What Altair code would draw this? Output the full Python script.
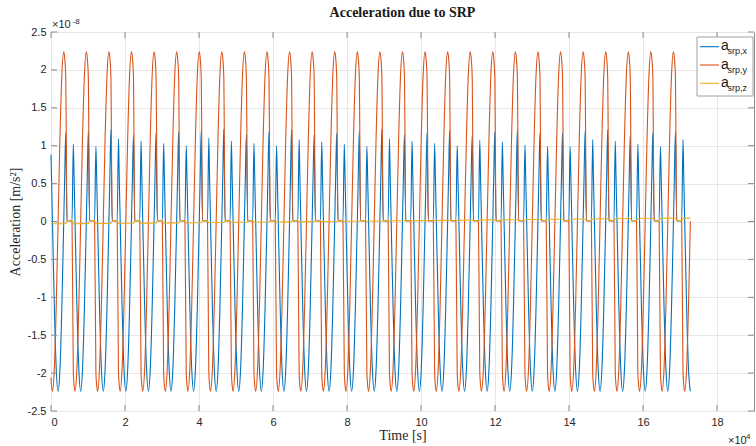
import altair as alt
import pandas as pd

# ---------------------------------------------------------------------------
# Values (accelerations in units of 1e-8 m/s^2)
# ---------------------------------------------------------------------------
# time of the middle of each eclipse (gap between the two blue spikes) [s]
ECLIPSE_CENTRES_S = [4970, 11073, 17176, 23279, 29382, 35485, 41588, 47691,
                     53794, 59897, 66000, 72103, 78206, 84309, 90412, 96515,
                     102618, 108721, 114824, 120927, 127030, 133133, 139236,
                     145339, 151442, 157545, 163648, 169751]

# one orbit as seen in the picture: offsets from the eclipse centre [s]
SHAPE_OFFSETS_S = [-3051, -2543, -2034, -1526, -1271, -990, -640,
                   710, 1060, 1271, 1526, 2034, 2543]
BLUE_SHAPE = [-2.24, -1.94, -1.12, 0.00, 0.58, None, 0.01,
              0.01, None, 0.58, 0.00, -1.12, -1.94]
ORANGE_SHAPE = [0.00, 1.12, 1.94, 2.24, 2.16, 1.91, 0.01,
                0.01, -1.99, -2.16, -2.24, -1.94, -1.12]

# blue spike heights at eclipse entry / exit, orbit by orbit
BLUE_ENTRY = [1.17, 1.19, 1.21, 1.14, 1.17, 1.18, 1.20, 1.22, 1.15,
              1.18, 1.21, 1.14, 1.16, 1.19, 1.22, 1.15, 1.17, 1.20,
              1.13, 1.18, 1.21, 1.16, 1.17, 1.19, 1.21, 1.13, 1.17, 1.19]
BLUE_EXIT = [1.02, 0.99, 1.09, 1.06, 1.03, 1.00, 1.10, 1.06, 1.03,
             1.00, 1.08, 1.05, 1.02, 0.99, 1.09, 1.06, 1.03, 1.00,
             1.07, 1.05, 1.01, 0.99, 0.99, 1.08, 1.06, 1.02, 0.99, 1.08]

# z component: level between eclipses (per orbit) and inside eclipse
YELLOW_OFFSETS_S = [-3051, -990, -640, 710, 1060]
YELLOW_BASE = [-0.030, -0.028, -0.026, -0.024, -0.021, -0.018, -0.016,
               -0.013, -0.010, -0.007, -0.005, -0.002, 0.000, 0.003,
               0.006, 0.009, 0.012, 0.015, 0.018, 0.021, 0.024, 0.027,
               0.030, 0.033, 0.036, 0.039, 0.042, 0.045]
ECLIPSE_LEVEL = 0.01

# partial orbit at the start and last sample
START_T = [0, 138, 393, 901, 1410]
START_BLUE = [0.88, 0.58, 0.00, -1.12, -1.94]
START_ORANGE = [-2.06, -2.16, -2.24, -1.94, -1.12]
START_YELLOW = -0.030
END_T = 172802
END_BLUE = -2.24
END_ORANGE = 0.00
END_YELLOW = 0.045

X_TICKS = [0, 20000, 40000, 60000, 80000, 100000, 120000, 140000, 160000, 180000]
Y_TICKS = [-2.5, -2, -1.5, -1, -0.5, 0, 0.5, 1, 1.5, 2, 2.5]

BLUE, ORANGE, YELLOW = "#0072BD", "#D95319", "#EDB120"
W, H = 703, 379
GRAY = "#8a8a8a"

# ---------------------------------------------------------------------------
blue_rows, orange_rows, yellow_rows = [], [], []
for t, b, o in zip(START_T, START_BLUE, START_ORANGE):
    blue_rows.append({"t": t, "v": b})
    orange_rows.append({"t": t, "v": o})
yellow_rows.append({"t": 0, "v": START_YELLOW})

for k, c in enumerate(ECLIPSE_CENTRES_S):
    for off, b, o in zip(SHAPE_OFFSETS_S, BLUE_SHAPE, ORANGE_SHAPE):
        if b is None:
            b = BLUE_ENTRY[k] if off < 0 else BLUE_EXIT[k]
        blue_rows.append({"t": c + off, "v": b})
        orange_rows.append({"t": c + off, "v": o})
    base = YELLOW_BASE[k]
    for off, lv in zip(YELLOW_OFFSETS_S, [base, base, ECLIPSE_LEVEL, ECLIPSE_LEVEL, base]):
        yellow_rows.append({"t": c + off, "v": lv})

blue_rows.append({"t": END_T, "v": END_BLUE})
orange_rows.append({"t": END_T, "v": END_ORANGE})
yellow_rows.append({"t": END_T, "v": END_YELLOW})

x_scale = alt.Scale(domain=[0, 190000], nice=False, zero=False)
y_scale = alt.Scale(domain=[-2.5, 2.5], nice=False, zero=False)

x_axis = alt.Axis(values=X_TICKS, labelExpr="'' + datum.value / 10000",
                  labelOverlap=False, labelBound=False,
                  title="Time [s]", titleFont="Liberation Serif",
                  titleFontSize=14, titleFontWeight="normal",
                  titleColor="#262626", titleY=24,
                  titleBaseline="middle", labelPadding=5)
y_axis = alt.Axis(values=Y_TICKS, labelExpr="'' + datum.value",
                  labelOverlap=False, labelBound=False,
                  title="Acceleration [m/s²]", titleFont="Liberation Serif",
                  titleFontSize=14, titleFontWeight="normal",
                  titleColor="#262626", titleX=-36, titleY=H / 2,
                  titleBaseline="middle", titleAlign="center",
                  labelPadding=5)
x_enc = alt.X("t:Q", scale=x_scale, axis=x_axis)
y_enc = alt.Y("v:Q", scale=y_scale, axis=y_axis)


def series(rows, color, interp):
    return alt.Chart(pd.DataFrame(rows)).mark_line(
        color=color, strokeWidth=1.1, interpolate=interp
    ).encode(x=x_enc, y=y_enc)


blue_line = series(blue_rows, BLUE, "monotone")
orange_line = series(orange_rows, ORANGE, "monotone")
yellow_line = series(yellow_rows, YELLOW, "linear")

xt = pd.DataFrame({"t": X_TICKS})
yt = pd.DataFrame({"v": Y_TICKS})
tick_len = 6
ticks = [
    alt.Chart(xt).mark_rule(color=GRAY).encode(x=x_enc, y=alt.value(H), y2=alt.value(H - tick_len)),
    alt.Chart(xt).mark_rule(color=GRAY).encode(x=x_enc, y=alt.value(0), y2=alt.value(tick_len)),
    alt.Chart(yt).mark_rule(color=GRAY).encode(y=y_enc, x=alt.value(0), x2=alt.value(tick_len)),
    alt.Chart(yt).mark_rule(color=GRAY).encode(y=y_enc, x=alt.value(W), x2=alt.value(W - tick_len)),
]

one = pd.DataFrame({"d": [0]})


def txt(text, x, y, size, align="left", font="Liberation Sans", color="#262626",
        baseline="alphabetic", weight="normal"):
    return alt.Chart(one).mark_text(
        align=align, baseline=baseline, font=font, fontSize=size, color=color,
        fontWeight=weight
    ).encode(x=alt.value(x), y=alt.value(y), text=alt.value(text))


# title and exponent labels
extras = [
    txt("Acceleration due to SRP", W / 2, -15, 14, align="center",
        font="Liberation Serif", color="#1a1a1a", weight="bold"),
    txt("×10", 1, -4, 11),
    txt("-8", 21.5, -8.5, 8),
    txt("×10", 677, 411.5, 11),
    txt("4", 695, 406.5, 8),
]

# legend
legend = [
    alt.Chart(one).mark_rect(fill="white", stroke="#a0a0a0", strokeWidth=1).encode(
        x=alt.value(646), x2=alt.value(702), y=alt.value(5), y2=alt.value(64))
]
for i, (col, sub) in enumerate([(BLUE, "srp,x"), (ORANGE, "srp,y"), (YELLOW, "srp,z")]):
    yy = 14.7 + i * 18.3
    legend.append(alt.Chart(one).mark_rule(color=col, strokeWidth=1.1).encode(
        x=alt.value(649), x2=alt.value(668), y=alt.value(yy)))
    legend.append(txt("a", 670, yy + 3.5, 14, color="#1a1a1a"))
    legend.append(txt(sub, 676.5, yy + 7.5, 9, color="#1a1a1a"))

chart = alt.layer(
    blue_line, orange_line, yellow_line, *ticks, *extras, *legend
).properties(
    width=W, height=H,
    autosize=alt.AutoSizeParams(type="none"),
    padding={"left": 51, "top": 32, "right": 2, "bottom": 35},
    background="white",
).configure_axis(
    labelFont="Liberation Sans", labelFontSize=11, labelColor="#262626",
    gridColor="#e6e6e6", gridWidth=1, domain=False, ticks=False,
    labelOverlap=False,
).configure_view(stroke=GRAY, strokeWidth=1)

chart.save("out.html", embed_options={"renderer": "svg", "actions": False})
